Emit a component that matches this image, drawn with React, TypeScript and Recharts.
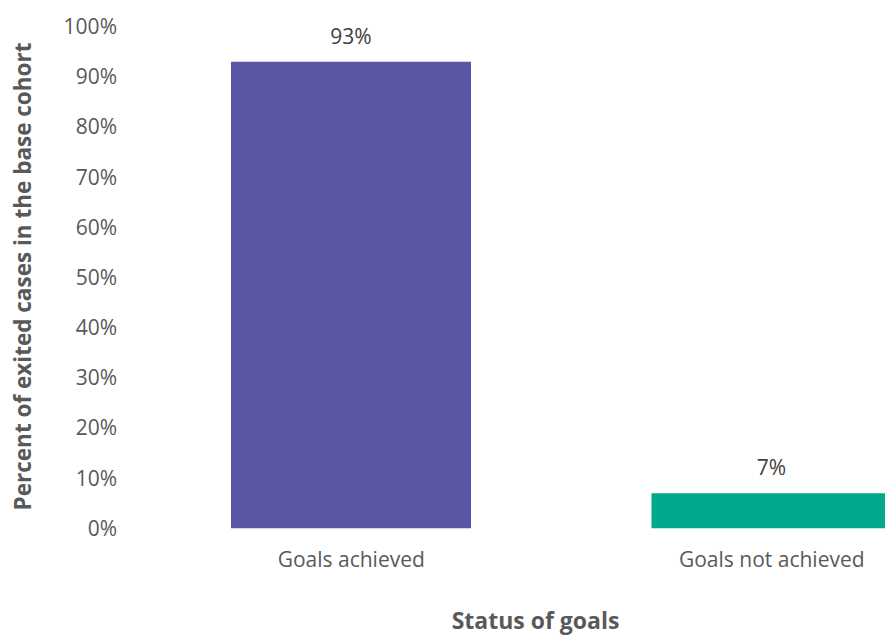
import React from "react";
import { BarChart, Bar, XAxis, YAxis, Cell, LabelList, Label } from "recharts";

const categories = ["Goals achieved", "Goals not achieved"];
const values = [0.93, 0.07];
const colors = ["#5A55A4", "#00A88D"];
const yTicks = [0, 0.1, 0.2, 0.3, 0.4, 0.5, 0.6, 0.7, 0.8, 0.9, 1];

const data = categories.map((c, i) => ({ name: c, value: values[i] }));

const FONT = "'Open Sans', Lato, sans-serif";
const pct = (v: number) => `${Math.round(v * 100)}%`;

const YTitle = (props: any) => {
  const vb = props.viewBox || {};
  const x = vb.x + 31;
  const y = vb.y + vb.height / 2 - 1;
  return (
    <text
      x={x}
      y={y}
      transform={`rotate(-90, ${x}, ${y})`}
      textAnchor="middle"
      fill="#595959"
      fontFamily={FONT}
      fontWeight="bold"
      fontSize={22.5}
    >
      Percent of exited cases in the base cohort
    </text>
  );
};

const XTitle = (props: any) => {
  const vb = props.viewBox || {};
  const x = vb.x + vb.width / 2 - 26;
  const y = vb.y + 101;
  return (
    <text
      x={x}
      y={y}
      textAnchor="middle"
      fill="#595959"
      fontFamily={FONT}
      fontWeight="bold"
      fontSize={23}
    >
      Status of goals
    </text>
  );
};

export default function App() {
  return (
    <div
      style={{
        position: "absolute",
        left: 0,
        top: 0,
        width: 885,
        height: 635,
        overflow: "hidden",
        background: "#fff",
      }}
    >
      <BarChart
        width={1000}
        height={635}
        data={data}
        margin={{ top: 26.6, right: 18, bottom: 0, left: 0 }}
      >
        <XAxis
          dataKey="name"
          height={106.7}
          axisLine={false}
          tickLine={false}
          tickSize={0}
          tickMargin={24}
          tick={{ fill: "#595959", fontSize: 21, fontFamily: FONT }}
          interval={0}
        >
          <Label content={<XTitle />} />
        </XAxis>
        <YAxis
          width={141}
          domain={[0, 1]}
          ticks={yTicks}
          tickFormatter={pct}
          axisLine={false}
          tickLine={false}
          tickSize={0}
          tickMargin={24}
          tick={{ fill: "#595959", fontSize: 21, fontFamily: FONT }}
          interval={0}
        >
          <Label content={<YTitle />} />
        </YAxis>
        <Bar dataKey="value" barSize={240} isAnimationActive={false}>
          {data.map((d, i) => (
            <Cell key={d.name} fill={colors[i]} />
          ))}
          <LabelList
            dataKey="value"
            position="top"
            offset={18}
            formatter={(v: any) => pct(Number(v))}
            fill="#404040"
            fontSize={21}
            fontFamily={FONT}
          />
        </Bar>
      </BarChart>
    </div>
  );
}
